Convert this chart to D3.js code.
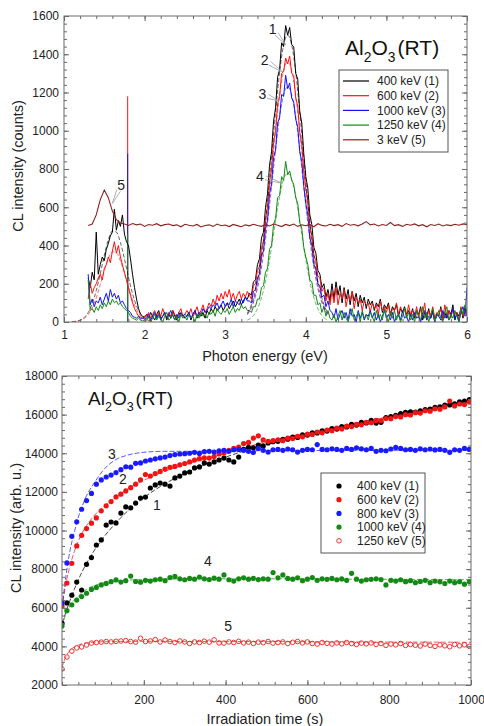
<!DOCTYPE html>
<html>
<head>
<meta charset="utf-8">
<script src="https://cdn.jsdelivr.net/npm/d3@7"></script>
<style>
  body { margin: 0; background: #fff; }
  svg text { font-family: "Liberation Sans", Arial, sans-serif; }
</style>
</head>
<body>
<script>
// ---------- top panel: CL spectra (counts vs photon energy) ----------
// sampling grid of the measured spectra: 1.300 .. 6.000 eV, 0.025 eV apart
const energy = d3.range(189).map(i => +(1.3 + i * 0.025).toFixed(3));

const kev400 = [
  230,180,260,220,470,250,300,340,320,380,410,450,470,590,480,530,500,560,460,420,400,330,250,180,120,70,40,30,25,
  40,20,50,30,10,40,60,20,30,50,10,40,20,60,30,10,50,30,40,20,30,50,10,40,60,20,40,30,50,20,60,40,70,50,80,60,70,90,60,80,
  100,70,90,110,80,100,120,90,110,130,120,
  150,140,210,220,300,330,440,470,600,670,820,890,1050,1120,1280,1320,1460,1440,1550,1500,1540,1450,1440,1300,1270,1100,1040,880,760,700,560,510,390,360,270,250,180,200,130,170,110,
  200,120,210,140,190,100,180,120,170,90,160,110,150,80,140,100,130,70,120,90,110,60,100,80,120,50,90,70,100,40,80,60,90,30,70,50,80,40,60,30,
  70,20,60,40,80,10,50,30,70,20,60,0,40,30,80,10,50,20,60,40,90,10,50,30,70,20,80,30
];
const kev600 = [
  120,200,150,180,200,230,250,220,280,300,340,310,370,420,360,400,340,300,260,220,180,140,100,70,50,30,25,20,30,
  30,50,20,40,60,20,50,30,70,40,20,50,30,60,40,20,50,70,30,40,60,40,70,30,50,80,40,60,90,50,70,100,80,120,90,140,110,150,120,160,
  130,170,120,150,110,140,160,120,150,130,160,
  140,120,190,200,270,290,390,420,540,600,730,800,940,1000,1140,1180,1300,1310,1380,1350,1390,1300,1290,1170,1130,990,930,790,700,630,500,450,350,320,240,230,160,180,110,150,90,
  160,100,180,90,150,120,170,80,140,110,160,70,130,100,120,60,110,90,100,50,100,70,90,40,110,60,80,50,90,30,70,60,100,40,80,50,70,30,90,40,
  60,30,80,20,70,40,100,10,60,30,80,20,50,40,70,10,90,30,60,20,70,40,50,10,80,30,60,40
];
const kev1000 = [
  250,90,120,80,110,100,130,90,120,150,110,170,130,150,120,140,100,110,90,70,60,50,30,25,20,30,15,20,15,
  20,40,10,30,50,20,40,10,30,50,20,40,60,30,10,40,20,50,30,40,30,50,20,40,60,30,50,40,70,50,60,80,70,90,80,100,70,90,110,80,
  100,90,120,80,110,100,90,120,100,130,110,
  110,100,160,170,230,250,350,370,490,530,670,720,860,900,1040,1070,1190,1180,1290,1220,1250,1170,1150,1060,1020,890,840,710,620,560,440,400,300,280,200,190,130,140,80,110,60,
  50,20,70,10,40,60,20,50,10,70,30,40,0,60,20,50,10,40,30,60,20,50,10,40,0,30,60,20,40,10,50,0,30,40,10,60,20,30,0,40,
  10,50,20,30,0,40,60,10,30,20,50,0,40,30,10,60,20,40,10,30,70,20,40,0,50,80,30,180
];
const kev1250 = [
  220,60,70,50,80,60,90,70,100,80,110,90,120,100,110,90,100,80,70,60,50,30,20,15,10,20,10,5,10,
  10,30,0,20,40,10,30,20,0,30,50,10,20,40,10,30,0,40,20,30,10,40,20,30,0,40,20,50,30,40,20,50,40,60,30,70,50,40,60,50,
  70,40,60,80,50,70,60,90,70,80,60,
  60,50,80,80,120,120,180,190,260,280,380,400,510,540,650,660,760,740,840,770,790,740,720,650,620,520,490,390,340,300,220,210,140,140,90,100,50,80,30,60,20,
  10,40,0,30,60,10,50,20,0,40,70,10,30,50,0,60,20,40,10,50,30,0,60,20,40,10,70,30,0,50,20,60,10,40,0,30,70,20,50,10,
  40,0,60,30,10,80,20,50,0,40,70,10,30,60,20,0,50,80,10,40,20,60,30,0,70,40,90,50
];
// 3 keV spectrum, 1.30 .. 6.00 eV, 0.05 eV apart
const energy3 = d3.range(95).map(i => +(1.3 + i * 0.05).toFixed(2));
const kev3 = [
  505,512,560,640,690,650,580,535,518,512,505,515,508,512,500,510,506,514,503,509,
  512,504,508,498,511,506,502,510,497,505,508,500,512,503,507,499,510,504,498,508,
  503,511,505,500,509,502,512,506,499,510,504,512,500,508,503,510,498,514,505,502,
  511,504,509,500,515,506,510,503,512,525,508,512,502,510,505,520,504,509,500,511,
  506,513,503,509,498,510,505,512,502,508,504,511,506,513,509
];
// gaussian fits (dashed), main band 3.275 .. 4.275 eV and low band 1.10 .. 2.10 eV, 0.05 eV apart
const fitPeakE = d3.range(21).map(i => +(3.275 + i * 0.05).toFixed(3));
const fitPeak400 = [46,91,163,274,431,632,863,1098,1306,1449,1500,1449,1306,1098,863,632,431,274,163,91,46];
const fitPeak600 = [42,82,148,249,391,573,782,996,1185,1314,1360,1314,1185,996,782,573,391,249,148,82,42];
const fitPeak1000 = [38,74,134,225,353,518,707,900,1071,1188,1230,1188,1071,900,707,518,353,225,134,74,38];
const fitPeak1250 = [10,23,49,94,165,264,390,529,656,747,780,747,656,529,390,264,165,94,49,23,10];
const fitLowE = d3.range(21).map(i => +(1.1 + i * 0.05).toFixed(2));
const fitLow400 = [1,4,10,23,49,95,164,253,349,430,476,470,416,330,234,148,84,43,19,8,3];
const fitLow600 = [1,3,8,18,38,73,126,195,269,331,367,362,320,254,180,114,65,33,15,6,2];
// narrow lamp line at 1.79 eV
const spikeE = 1.79;
const spikeTops = [1180, 880, 460];   // 600 keV, 1000 keV, 1250 keV

const topLegend = ["400 keV (1)", "600 keV (2)", "1000 keV (3)", "1250 keV (4)", "3 keV (5)"];
const topColors = ["#000000", "#ff1010", "#1010ff", "#138a13", "#8b2222"];

// label, label position (eV, counts), arrow tip (eV, counts)
const topNotes = [
  ["1", 3.59, 1530, 3.75, 1450],
  ["2", 3.49, 1370, 3.72, 1305],
  ["3", 3.46, 1192, 3.67, 1155],
  ["4", 3.43, 763, 3.71, 725],
  ["5", 1.71, 716, 1.60, 620]
];

// ---------- bottom panel: CL intensity vs irradiation time ----------
const times = d3.range(84).map(k => k * 12);   // 0 .. 996 s
const dots400 = [
  5200,6250,6650,7330,6920,8250,8600,9250,9510,10280,10440,10390,10900,11220,11170,11420,11680,11730,12200,12360,
  12460,12400,12300,12720,12820,12980,13030,13240,13290,13500,13440,13550,13650,13750,13650,13550,13800,14200,14300,14280,
  14420,14380,14530,14600,14620,14720,14730,14830,14820,14950,14940,15060,15050,15160,15150,15270,15250,15380,15360,15490,
  15460,15600,15570,15700,15560,15600,15850,15900,15960,16050,16120,16150,16130,16200,16260,16280,16380,16400,16490,16500,
  16560,16660,16700,16780
];
const dots600 = [
  6090,7280,8300,9200,9750,10100,10380,10650,11020,11280,11500,11740,11880,12050,12220,12400,12620,12900,12820,12950,
  13060,13180,13270,13320,13400,13470,13550,13650,13720,13760,13750,13830,13960,14010,14150,14250,14320,14500,14560,14780,
  14900,14690,14620,14650,14700,14650,14780,14760,14880,14850,14990,14970,15100,15060,15200,15170,15300,15260,15400,15380,
  15500,15470,15600,15580,15700,15690,15800,15790,15900,15880,16000,15980,16100,16080,16200,16180,16300,16280,16400,16700,
  16450,16550,16520,16650
];
const dots800 = [
  6250,8320,9700,10450,11100,11550,11920,12400,12620,12770,12870,13000,13150,13300,13280,13480,13500,13600,13650,13710,
  13760,13800,13880,13930,13960,13980,14000,14050,13990,14080,14100,14060,14130,14150,14100,14180,14200,14150,14100,14040,
  14250,14150,14060,14180,14200,14150,14220,14180,14060,14150,14200,14180,14450,14200,14180,14230,14200,14150,14250,14200,
  14280,14230,14180,14250,14100,14150,14130,14220,14300,14250,14180,14200,14150,14230,14180,14220,14170,14200,14150,14050,
  14180,14150,14250,14200
];
const dots1000 = [
  5050,5850,6150,6400,6580,6750,6950,7050,7180,7260,7350,7440,7330,7400,7640,7360,7320,7420,7380,7450,
  7480,7400,7560,7620,7500,7450,7520,7480,7590,7500,7460,7530,7480,7700,7450,7380,7500,7550,7480,7520,
  7460,7500,7480,7820,7550,7700,7520,7480,7550,7400,7480,7560,7420,7500,7470,7520,7450,7490,7420,7780,
  7480,7380,7450,7470,7500,7460,7180,7420,7380,7450,7350,7400,7300,7360,7420,7300,7380,7340,7250,7380,
  7300,7350,7220,7350
];
const dots1250 = [
  2830,3450,3750,3920,3970,4070,4170,4200,4220,4250,4230,4260,4280,4300,4250,4220,4420,4250,4280,4350,
  4230,4330,4250,4200,4280,4230,4150,4230,4200,4270,4220,4340,4180,4170,4230,4200,4260,4180,4220,4150,
  4220,4190,4250,4170,4200,4230,4150,4210,4250,4180,4230,4150,4120,4200,4160,4120,4180,4130,4200,4150,
  4100,4170,4130,4180,4100,4150,4050,4120,4080,4150,4050,4100,4060,4020,4120,4050,4000,4080,4030,3980,
  4100,4030,4080,4000
];
// dashed fit curves
const fitT = [0,5,10,20,30,40,50,60,80,100,130,160,200,250,300,400,500,600,700,800,900,1000];
const fit400 = [5200,5500,5800,6400,6950,7450,7900,8300,9000,9600,10350,11000,11700,12400,12950,13800,14450,14950,15400,15850,16300,16750];
const fit600 = [6000,6700,7300,8200,8900,9450,9900,10250,10800,11200,11700,12150,12600,13050,13400,14000,14600,15050,15480,15900,16300,16700];
const fit800 = [6000,6900,7700,9000,9900,10700,11300,11800,12500,13100,13650,13900,14050,14100,14100,14120,14130,14140,14150,14150,14150,14150];
const fit1000 = [5000,5400,5700,6100,6400,6600,6800,6950,7150,7280,7380,7430,7460,7480,7490,7500,7500,7500,7480,7470,7460,7450];
const fit1250 = [2900,3250,3500,3800,3970,4070,4140,4180,4220,4240,4250,4260,4260,4260,4250,4250,4250,4240,4230,4220,4220,4210];

const botLegend = ["400 keV (1)", "600 keV (2)", "800 keV (3)", "1000 keV (4)", "1250 keV (5)"];
const botColors = ["#000000", "#f01414", "#1a1aff", "#138a13", "#e82020"];

const botNotes = [
  ["3", 122, 13960], ["2", 149, 12670], ["1", 232, 11320], ["4", 357, 8420], ["5", 406, 5055]
];

// ---------- drawing ----------
const width = 484, height = 726;
const svg = d3.select("body").append("svg")
  .attr("width", width)
  .attr("height", height);

const frameColor = "#6a6a6a";
const font = "'Liberation Sans', Arial, sans-serif";

function drawFrame(x, y, o) {
  const [x0, x1] = x.range(), [y0, y1] = y.range();
  const g = svg.append("g");
  const style = sel => {
    sel.select(".domain").remove();
    sel.selectAll("line").attr("stroke", frameColor);
    sel.selectAll("text").attr("font-size", 12).attr("fill", "#222").attr("font-family", font);
  };
  // minor ticks on all sides
  g.append("g").attr("transform", `translate(0,${y0})`)
    .call(d3.axisBottom(x).tickValues(o.xMinor).tickSize(-3).tickFormat("")).call(style);
  g.append("g").attr("transform", `translate(0,${y1})`)
    .call(d3.axisTop(x).tickValues(o.xMinor).tickSize(-3).tickFormat("")).call(style);
  g.append("g").attr("transform", `translate(${x0},0)`)
    .call(d3.axisLeft(y).tickValues(o.yMinor).tickSize(-3).tickFormat("")).call(style);
  g.append("g").attr("transform", `translate(${x1},0)`)
    .call(d3.axisRight(y).tickValues(o.yMinor).tickSize(-3).tickFormat("")).call(style);
  // major ticks + labels
  g.append("g").attr("transform", `translate(0,${y0})`)
    .call(d3.axisBottom(x).tickValues(o.xMajor).tickSize(-5).tickPadding(o.padX).tickFormat(d3.format("d"))).call(style);
  g.append("g").attr("transform", `translate(0,${y1})`)
    .call(d3.axisTop(x).tickValues(o.xMajor).tickSize(-5).tickFormat("")).call(style);
  g.append("g").attr("transform", `translate(${x0},0)`)
    .call(d3.axisLeft(y).tickValues(o.yMajor).tickSize(-5).tickPadding(o.padY).tickFormat(d3.format("d"))).call(style);
  g.append("g").attr("transform", `translate(${x1},0)`)
    .call(d3.axisRight(y).tickValues(o.yMajor).tickSize(-5).tickFormat("")).call(style);
  g.append("rect")
    .attr("x", x0).attr("y", y1)
    .attr("width", x1 - x0).attr("height", y0 - y1)
    .attr("fill", "none").attr("stroke", frameColor).attr("stroke-width", 1);
}

function drawTitle(px, py, size) {
  const t = svg.append("text").attr("x", px).attr("y", py)
    .attr("font-size", size).attr("fill", "#111");
  t.append("tspan").text("Al");
  t.append("tspan").attr("font-size", size * 0.66).attr("dy", size * 0.32).text("2");
  t.append("tspan").attr("dy", -size * 0.32).text("O");
  t.append("tspan").attr("font-size", size * 0.66).attr("dy", size * 0.32).text("3");
  t.append("tspan").attr("dy", -size * 0.32).attr("dx", size * 0.1).text("(RT)");
}

function axisTitle(text, px, py, rotate) {
  svg.append("text")
    .attr("transform", `translate(${px},${py})` + (rotate ? " rotate(-90)" : ""))
    .attr("text-anchor", "middle")
    .attr("font-size", 14.5)
    .attr("fill", "#222")
    .text(text);
}

// ----- top panel -----
const x1 = d3.scaleLinear().domain([1, 6]).range([64, 467]);
const y1 = d3.scaleLinear().domain([0, 1600]).range([322, 16]);

svg.append("clipPath").attr("id", "clipTop")
  .append("rect").attr("x", 64).attr("y", 16).attr("width", 403).attr("height", 306);

const topPlot = svg.append("g").attr("clip-path", "url(#clipTop)");

const specLine = d3.line().x((d, i) => x1(energy[i])).y(d => y1(d));
const spectra = [kev400, kev600, kev1000, kev1250];

// spike at the lamp line
spikeTops.forEach((v, i) => {
  topPlot.append("line")
    .attr("x1", x1(spikeE)).attr("x2", x1(spikeE))
    .attr("y1", y1(0)).attr("y2", y1(v))
    .attr("stroke", topColors[i + 1]).attr("stroke-width", 1);
});

spectra.forEach((s, i) => {
  topPlot.append("path")
    .datum(s)
    .attr("d", specLine)
    .attr("fill", "none")
    .attr("stroke", topColors[i])
    .attr("stroke-width", 1);
});

// dashed fits
const fitLine = grid => d3.line().x((d, i) => x1(grid[i])).y(d => y1(d));
[fitPeak400, fitPeak600, fitPeak1000, fitPeak1250].forEach((f, i) => {
  topPlot.append("path").datum(f)
    .attr("d", fitLine(fitPeakE).curve(d3.curveMonotoneX))
    .attr("fill", "none").attr("stroke", topColors[i]).attr("stroke-opacity", 0.6)
    .attr("stroke-width", 1).attr("stroke-dasharray", "4,2");
});
[fitLow400, fitLow600].forEach((f, i) => {
  topPlot.append("path").datum(f)
    .attr("d", fitLine(fitLowE).curve(d3.curveMonotoneX))
    .attr("fill", "none").attr("stroke", topColors[i]).attr("stroke-opacity", 0.6)
    .attr("stroke-width", 1).attr("stroke-dasharray", "4,2");
});

topPlot.append("path")
  .datum(kev3)
  .attr("d", d3.line().x((d, i) => x1(energy3[i])).y(d => y1(d)))
  .attr("fill", "none")
  .attr("stroke", topColors[4])
  .attr("stroke-width", 1.1);

drawFrame(x1, y1, {
  xMajor: [1, 2, 3, 4, 5, 6],
  xMinor: d3.range(1, 6.001, 0.2),
  yMajor: d3.range(0, 1601, 200),
  yMinor: d3.range(0, 1601, 40),
  padX: 8, padY: 5
});

// curve labels with thin arrows
topNotes.forEach(([lab, ex, ev, tx, tv]) => {
  const lx = x1(ex), ly = y1(ev), ax = x1(tx), ay = y1(tv);
  const dx = ax - lx, dy = ay - ly, len = Math.hypot(dx, dy);
  const ux = dx / len, uy = dy / len;
  const sx = lx + ux * 6, sy = ly + uy * 6;
  svg.append("path")
    .attr("d", `M${sx - uy * 2},${sy + ux * 2}L${ax},${ay}L${sx + uy * 2},${sy - ux * 2}`)
    .attr("fill", "none").attr("stroke", "#999").attr("stroke-width", 0.8);
  svg.append("text").attr("x", lx).attr("y", ly + 5)
    .attr("text-anchor", "middle").attr("font-size", 14).attr("fill", "#222").text(lab);
});

drawTitle(345, 55, 21);

// legend
const lgT = svg.append("g");
lgT.append("rect").attr("x", 339).attr("y", 70).attr("width", 109).attr("height", 82)
  .attr("fill", "#fff").attr("stroke", "#555").attr("stroke-width", 1);
topLegend.forEach((name, i) => {
  const yy = 81 + i * 14.7;
  lgT.append("line").attr("x1", 343).attr("x2", 369).attr("y1", yy).attr("y2", yy)
    .attr("stroke", topColors[i]).attr("stroke-width", 1.2);
  lgT.append("text").attr("x", 377).attr("y", yy + 4.3)
    .attr("font-size", 12).attr("fill", "#222").text(name);
});

axisTitle("Photon energy (eV)", 265, 361, false);
axisTitle("CL intensity (counts)", 23, 166, true);

// ----- bottom panel -----
const x2 = d3.scaleLinear().domain([0, 1000]).range([62, 471]);
const y2 = d3.scaleLinear().domain([2000, 18000]).range([685, 376]);

svg.append("clipPath").attr("id", "clipBot")
  .append("rect").attr("x", 62).attr("y", 376).attr("width", 409).attr("height", 309);
const botPlot = svg.append("g").attr("clip-path", "url(#clipBot)");

const fitLine2 = d3.line().x((d, i) => x2(fitT[i])).y(d => y2(d)).curve(d3.curveMonotoneX);
[fit400, fit600, fit800, fit1000, fit1250].forEach((f, i) => {
  botPlot.append("path").datum(f)
    .attr("d", fitLine2)
    .attr("fill", "none").attr("stroke", botColors[i]).attr("stroke-opacity", 0.8)
    .attr("stroke-width", 0.9).attr("stroke-dasharray", "5,2");
});

[dots400, dots600, dots800, dots1000].forEach((s, i) => {
  botPlot.append("g").selectAll("circle")
    .data(s)
    .join("circle")
    .attr("cx", (d, k) => x2(times[k]))
    .attr("cy", d => y2(d))
    .attr("r", 2.6)
    .attr("fill", botColors[i]);
});
botPlot.append("g").selectAll("circle")
  .data(dots1250)
  .join("circle")
  .attr("cx", (d, k) => x2(times[k]))
  .attr("cy", d => y2(d))
  .attr("r", 2.3)
  .attr("fill", "none")
  .attr("stroke", botColors[4])
  .attr("stroke-width", 0.9);

drawFrame(x2, y2, {
  xMajor: [200, 400, 600, 800, 1000],
  xMinor: d3.range(0, 1001, 40),
  yMajor: d3.range(2000, 18001, 2000),
  yMinor: d3.range(2000, 18001, 400),
  padX: 10, padY: 4
});

botNotes.forEach(([lab, t, v]) => {
  svg.append("text").attr("x", x2(t)).attr("y", y2(v) + 5)
    .attr("text-anchor", "middle").attr("font-size", 14).attr("fill", "#222").text(lab);
});

drawTitle(88, 405, 19);

const lgB = svg.append("g");
lgB.append("rect").attr("x", 321).attr("y", 473).attr("width", 104).attr("height", 80)
  .attr("fill", "#fff").attr("stroke", "#555").attr("stroke-width", 1);
botLegend.forEach((name, i) => {
  const yy = 486 + i * 13.7;
  const c = lgB.append("circle").attr("cx", 339).attr("cy", yy).attr("r", i === 4 ? 2.3 : 2.6);
  if (i === 4) c.attr("fill", "none").attr("stroke", botColors[i]).attr("stroke-width", 0.9);
  else c.attr("fill", botColors[i]);
  lgB.append("text").attr("x", 357).attr("y", yy + 4.3)
    .attr("font-size", 12).attr("fill", "#222").text(name);
});

axisTitle("Irradiation time (s)", 265, 724, false);
axisTitle("CL intensity (arb. u.)", 21, 528, true);
</script>
</body>
</html>
